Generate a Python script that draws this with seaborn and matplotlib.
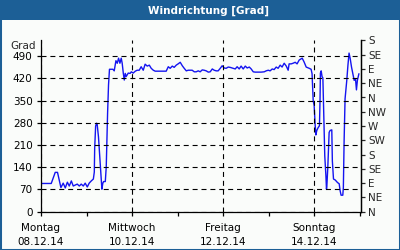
import matplotlib
matplotlib.use("Agg")
import matplotlib.pyplot as plt
from matplotlib.patches import Rectangle
import pandas as pd
import seaborn as sns

# hours since Monday 08.12.14 00:00
hours = [0, 5.4, 7.5, 8.7, 10.5, 11.7, 12.8, 13.9, 14.9, 16.0, 17.0, 18.1, 19.1, 20.2,
         21.2, 22.3, 23.3, 24.4, 25.4, 26.5, 27.6, 28.1, 28.3, 28.8, 29.3, 29.6, 30.3,
         31.2, 32.1, 32.6, 33.0, 33.9, 34.4, 35.1, 35.6, 36.1, 36.5, 37.9, 38.6, 39.5,
         40.2, 40.9, 41.6, 42.3, 42.8, 43.4, 43.9, 44.4, 44.9, 46.0, 47.0, 47.6, 48.6,
         49.7, 50.7, 51.8, 52.8, 53.9, 54.9, 56.0, 57.1, 58.1, 59.2, 60.2, 61.3, 62.9,
         64.4, 66.0, 67.1, 68.1, 69.2, 70.2, 71.3, 72.3, 73.4, 74.5, 75.5, 76.6, 77.6,
         78.7, 79.7, 80.8, 81.8, 82.9, 83.9, 85.0, 86.0, 87.1, 88.2, 89.2, 90.3, 91.3,
         92.4, 93.4, 94.5, 95.5, 96.6, 97.6, 98.7, 99.7, 101.3, 102.4, 103.4, 104.5,
         105.5, 106.6, 107.7, 108.7, 109.8, 110.8, 111.9, 112.9, 114.5, 116.1, 117.7,
         118.7, 119.8, 120.8, 121.9, 122.9, 124.0, 125.0, 126.1, 127.1, 128.2, 129.3,
         130.3, 130.8, 131.9, 132.9, 134.0, 135.0, 136.1, 137.7, 138.7, 139.8, 141.4,
         142.4, 142.9, 143.5, 144.0, 144.5, 144.9, 145.4, 146.1, 146.8, 147.1, 147.3,
         147.7, 148.2, 148.6, 148.9, 149.3, 149.6, 150.2, 150.5, 150.7, 151.2, 151.9,
         152.4, 153.3, 153.6, 154.2, 155.1, 156.3, 157.2, 157.7, 158.2, 159.1, 159.4,
         159.8, 160.3, 161.2, 161.8, 162.4, 163.0, 163.7, 164.4, 165.1, 165.8, 166.3,
         166.8, 167.6]
direction = [89, 89, 124, 124, 76, 90, 75, 93, 81, 97, 81, 84, 87, 81,
             87, 81, 90, 78, 90, 97, 103, 125, 200, 270, 279, 276, 236,
             153, 71, 90, 95, 95, 142, 310, 400, 449, 449, 449, 444, 476,
             468, 484, 468, 484, 468, 436, 415, 436, 426, 437, 436, 441, 437,
             443, 446, 446, 457, 446, 465, 459, 462, 452, 446, 443, 443, 443,
             443, 443, 457, 452, 459, 455, 462, 466, 471, 460, 452, 444, 446,
             446, 446, 441, 441, 444, 441, 447, 446, 444, 440, 441, 450, 446,
             444, 444, 452, 460, 453, 452, 456, 455, 452, 450, 457, 450,
             459, 450, 459, 453, 456, 450, 441, 440, 440, 440, 441,
             444, 446, 444, 450, 448, 456, 452, 462, 456, 468, 459,
             446, 466, 466, 468, 471, 466, 478, 484, 472, 456, 452,
             449, 435, 350, 335, 277, 242, 256, 265, 271, 351, 437,
             444, 425, 422, 351, 256, 176, 113, 71, 81, 140, 250,
             256, 258, 160, 103, 100, 92, 88, 66, 52, 52, 76,
             224, 356, 414, 461, 500, 483, 456, 435, 414, 419, 384,
             414, 435]

day_ticks = [0, 48, 96, 144]
day_minor = [24, 72, 120, 168]
day_labels = ["Montag\n08.12.14", "Mittwoch\n10.12.14", "Freitag\n12.12.14", "Sonntag\n14.12.14"]
deg_ticks = [0, 70, 140, 210, 280, 350, 420, 490]
compass_ticks = [0, 45, 90, 135, 180, 225, 270, 315, 360, 405, 450, 495, 540]
compass_labels = ["N", "NE", "E", "SE", "S", "SW", "W", "NW", "N", "NE", "E", "SE", "S"]
title = "Windrichtung [Grad]"
unit = "Grad"

BAR = "#1c5f96"
BG = "#fafcfa"
LINE = "#1414f0"

sns.set_theme(style="ticks")
plt.rcParams['font.family'] = ['DejaVu Sans']

fig = plt.figure(figsize=(4, 2.5), dpi=100)
fig.patch.set_facecolor(BG)

ax = fig.add_axes([41 / 400, 1 - 211.7 / 250, 320 / 400, (211.7 - 40.4) / 250])
ax.set_facecolor(BG)

df = pd.DataFrame({"h": hours, "d": direction})
sns.lineplot(data=df, x="h", y="d", ax=ax, color=LINE, lw=1.0,
             sort=False, estimator=None)

ax.set_xlim(0, 168.7)
ax.set_ylim(0, 540)
ax.set_xticks(day_ticks)
ax.set_xticklabels(day_labels, linespacing=1.5)
ax.set_xticks(day_minor, minor=True)
ax.set_yticks(deg_ticks)
ax.set_yticklabels([str(v) for v in deg_ticks])
ax.set_xlabel("")
ax.set_ylabel("")

for sp in ["left", "bottom", "right"]:
    ax.spines[sp].set_visible(True)
    ax.spines[sp].set_color("black")
    ax.spines[sp].set_linewidth(0.9)
ax.spines["top"].set_visible(False)

ax.tick_params(axis="both", which="both", direction="out", length=3, width=0.9,
               colors="black", labelsize=7.5)
ax.tick_params(axis="x", which="major", pad=5)
ax.tick_params(axis="y", pad=3)

ax.grid(True, which="major", color="black", linestyle=(0, (4.5, 3.5)), linewidth=0.8)
ax.set_axisbelow(False)

ax2 = ax.twinx()
ax2.set_ylim(0, 540)
ax2.set_yticks(compass_ticks)
ax2.set_yticklabels(compass_labels)
ax2.tick_params(axis="y", direction="out", length=3, width=0.9, labelsize=7.5, pad=2)
for sp in ["left", "bottom", "top"]:
    ax2.spines[sp].set_visible(False)
ax2.spines["right"].set_color("black")
ax2.spines["right"].set_linewidth(0.9)
ax2.grid(False)

fig.text(36 / 400, 1 - 46 / 250, unit, ha="right", va="center", fontsize=7.5)

fig.add_artist(Rectangle((0, 1 - 20 / 250), 1, 20 / 250, transform=fig.transFigure,
                         facecolor=BAR, edgecolor="none"))
fig.text(209 / 400, 1 - 10.5 / 250, title, ha="center", va="center", color="white",
         fontsize=7.5, fontweight="bold")
fig.add_artist(Rectangle((0, 0), 1, 1, transform=fig.transFigure, fill=False,
                         edgecolor=BAR, linewidth=2.2))

fig.savefig("out.png", dpi=100, facecolor=BG)
